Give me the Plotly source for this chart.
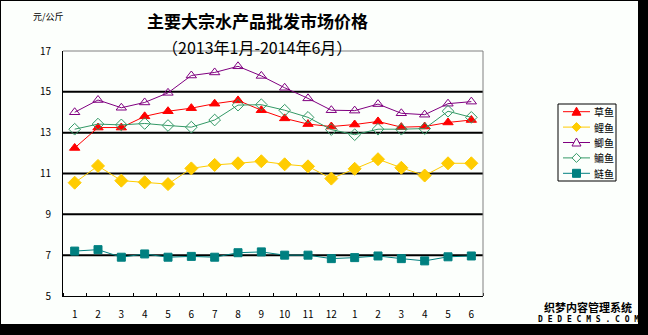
import plotly.graph_objects as go

# ---- data ----
month_labels = ["1", "2", "3", "4", "5", "6", "7", "8", "9", "10", "11", "12",
                "1", "2", "3", "4", "5", "6"]
caoyu = [12.25, 13.25, 13.25, 13.8, 14.05, 14.2, 14.42, 14.58, 14.1, 13.7, 13.42, 13.3,
         13.4, 13.55, 13.27, 13.3, 13.5, 13.62]
liyu = [10.55, 11.37, 10.65, 10.57, 10.48, 11.25, 11.42, 11.5, 11.6, 11.45, 11.35, 10.75,
        11.23, 11.7, 11.28, 10.9, 11.5, 11.5]
jiyu = [14.0, 14.6, 14.22, 14.48, 14.95, 15.8, 15.95, 16.25, 15.78, 15.2, 14.68, 14.1,
        14.08, 14.4, 13.95, 13.88, 14.42, 14.52]
bianyu = [13.17, 13.42, 13.38, 13.45, 13.35, 13.27, 13.62, 14.35, 14.37, 14.1, 13.75, 13.15,
          12.9, 13.17, 13.17, 13.2, 14.05, 13.75]
lianyu = [7.2, 7.27, 6.9, 7.06, 6.9, 6.94, 6.9, 7.12, 7.16, 7.0, 7.0, 6.83,
          6.88, 6.96, 6.83, 6.72, 6.92, 6.96]
y_ticks = [5, 7, 9, 11, 13, 15, 17]

# name, values, colour, plotly symbol, size, legend glyph kind, filled
series = [
    ("草鱼", caoyu, "#FF0000", "triangle-up", 9, "tri", True),
    ("鲤鱼", liyu, "#FFCC00", "diamond", 10, "dia", True),
    ("鲫鱼", jiyu, "#800080", "triangle-up-open", 9, "tri", False),
    ("鳊鱼", bianyu, "#339966", "diamond-open", 9, "dia", False),
    ("鲢鱼", lianyu, "#008080", "square", 8, "sq", True),
]

W, H = 648, 335
L, R, T, B = 63, 483, 51, 296  # plot area pixel box
LG_L, LG_R, LG_T, LG_B = 558, 616, 104, 181  # legend box pixels
BG = "#fcfffc"
FONT = "Noto Sans CJK SC"


def px(xp):
    return (xp - L) / (R - L)


def py(yp):
    return (B - yp) / (B - T)


xs = list(range(1, len(month_labels) + 1))

fig = go.Figure()
for name, vals, col, sym, sz, kind, filled in series:
    fig.add_trace(go.Scatter(
        x=xs, y=vals, name=name, mode="lines+markers",
        line=dict(color=col, width=1),
        marker=dict(symbol=sym, size=sz, color=col,
                    line=dict(color=col, width=1)),
        showlegend=False,
    ))

fig.update_layout(
    width=W, height=H, autosize=False,
    margin=dict(l=L, r=W - R, t=T, b=H - B, pad=0),
    paper_bgcolor=BG, plot_bgcolor=BG,
    font=dict(family=FONT, size=10, color="black"),
    showlegend=False,
    xaxis=dict(
        range=[0.5, len(month_labels) + 0.5],
        tickmode="array", tickvals=xs, ticktext=month_labels,
        ticks="", showgrid=False, zeroline=False,
        showline=True, linecolor="black", linewidth=1,
        tickfont=dict(family=FONT, size=10, color="black"),
        ticklabelstandoff=9,
        minor=dict(tickmode="linear", tick0=0.5, dtick=1, ticks="inside",
                   ticklen=3, tickcolor="black", tickwidth=1, showgrid=False),
    ),
    yaxis=dict(
        range=[5, 17], tickmode="array", tickvals=y_ticks,
        ticks="", showgrid=False,
        zeroline=False, showline=True, linecolor="black", linewidth=1,
        tickfont=dict(family=FONT, size=10, color="black"),
        ticklabelstandoff=9,
    ),
)

# bold black gridlines on the inner ticks (top edge is the grey frame)
for v in y_ticks[1:-1]:
    fig.add_shape(type="line", xref="paper", yref="y", x0=0, x1=1, y0=v, y1=v,
                  layer="below", line=dict(color="black", width=2))


def pshape(points, **kw):
    path = "M " + " L ".join(f"{px(a):.5f},{py(b):.5f}" for a, b in points) + " Z"
    fig.add_shape(type="path", xref="paper", yref="paper", path=path, **kw)


# plot frame (top/right grey)
fig.add_shape(type="line", xref="paper", yref="paper", x0=0, x1=1, y0=1, y1=1,
              line=dict(color="#808080", width=1))
fig.add_shape(type="line", xref="paper", yref="paper", x0=1, x1=1, y0=0, y1=1,
              line=dict(color="#808080", width=1))

# hand-drawn legend
fig.add_shape(type="rect", xref="paper", yref="paper",
              x0=px(LG_L), x1=px(LG_R), y0=py(LG_B), y1=py(LG_T),
              line=dict(color="black", width=1), fillcolor=BG)
row_h = (LG_B - LG_T) / len(series)
for i, (name, vals, col, sym, sz, kind, filled) in enumerate(series):
    yc = LG_T + row_h * (i + 0.5)
    cx = LG_L + 18.5
    fig.add_shape(type="line", xref="paper", yref="paper",
                  x0=px(LG_L + 5), x1=px(LG_L + 32), y0=py(yc), y1=py(yc),
                  line=dict(color=col, width=1))
    fill = col if filled else BG
    if kind == "tri":
        pts = [(cx - 4.5, yc + 3.5), (cx + 4.5, yc + 3.5), (cx, yc - 4.5)]
    elif kind == "dia":
        pts = [(cx, yc - 4.5), (cx + 4.5, yc), (cx, yc + 4.5), (cx - 4.5, yc)]
    else:
        pts = [(cx - 4, yc - 4), (cx + 4, yc - 4), (cx + 4, yc + 4), (cx - 4, yc + 4)]
    pshape(pts, line=dict(color=col, width=1), fillcolor=fill)
    fig.add_annotation(text=name, xref="paper", yref="paper",
                       x=px(LG_L + 34), y=py(yc), xanchor="left", yanchor="middle",
                       showarrow=False, font=dict(family=FONT, size=10, color="black"))

# outer black frame / shadow
for x0, x1, y0, y1 in [(638, W, 0, H), (0, W, 324, H), (0, 1, 0, H), (0, W, 0, 1)]:
    fig.add_shape(type="rect", xref="paper", yref="paper",
                  x0=px(x0), x1=px(x1), y0=py(y1), y1=py(y0),
                  line=dict(width=0), fillcolor="black")

# titles
fig.add_annotation(text="<b>主要大宗水产品批发市场价格</b>",
                   xref="paper", yref="paper",
                   x=px(257.5), y=py(20), xanchor="center", yanchor="middle",
                   showarrow=False, font=dict(family=FONT, size=17, color="black"))
fig.add_annotation(text="（2013年1月-2014年6月）",
                   xref="paper", yref="paper",
                   x=px(257), y=py(47), xanchor="center", yanchor="middle",
                   showarrow=False, font=dict(family=FONT, size=16, color="black"))
fig.add_annotation(text="元/公斤", xref="paper", yref="paper",
                   x=px(48), y=py(16), xanchor="center", yanchor="middle",
                   showarrow=False, font=dict(family=FONT, size=9, color="black"))

# watermark
fig.add_annotation(text="<b>织梦内容管理系统</b>", xref="paper", yref="paper",
                   x=px(588), y=py(306.5), xanchor="center", yanchor="middle",
                   showarrow=False, font=dict(family=FONT, size=11, color="black"))
fig.add_annotation(text="<b>D E D E C M S . C O M</b>", xref="paper", yref="paper",
                   x=px(588), y=py(319.5), xanchor="center", yanchor="middle",
                   showarrow=False, font=dict(family="DejaVu Sans Mono", size=8, color="black"))

fig.write_html("out.html")
